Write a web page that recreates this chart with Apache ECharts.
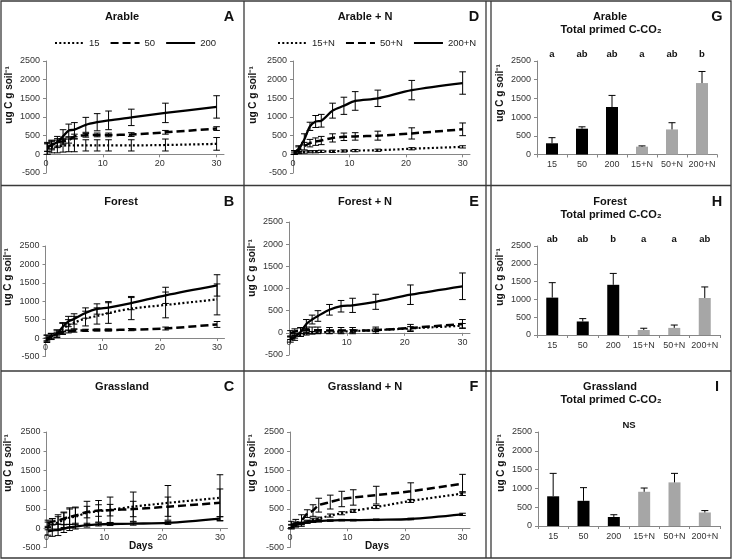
<!DOCTYPE html>
<html>
<head>
<meta charset="utf-8">
<script src="https://cdn.jsdelivr.net/npm/echarts@6/dist/echarts.min.js"></script>
<style>html,body{margin:0;padding:0;background:#fff}#c{width:733px;height:560px}</style>
</head>
<body>
<div id="c"></div>
<script>
// ---------- data ----------
const days = [0.25, 1, 2, 3, 4, 5, 7, 9, 11, 15, 21, 30];
const xTicks = [0, 10, 20, 30];

// Arable (A)
const arable15 = [150, 200, 210, 230, 240, 240, 240, 240, 240, 240, 250, 280];
const arable15Err = [150, 160, 170, 170, 170, 170, 150, 150, 150, 150, 160, 170];
const arable50 = [180, 250, 320, 350, 380, 480, 510, 520, 520, 530, 590, 690];
const arable50Err = [100, 100, 100, 80, 80, 60, 50, 50, 50, 50, 50, 50];
const arable200 = [200, 250, 330, 480, 640, 660, 790, 860, 910, 990, 1110, 1270];
const arable200Err = [120, 130, 150, 180, 170, 190, 200, 230, 250, 220, 260, 300];
// Arable + N (D)
const arableN15 = [30, 50, 60, 70, 70, 80, 80, 90, 100, 110, 150, 200];
const arableN15Err = [30, 30, 30, 30, 30, 30, 30, 30, 30, 30, 30, 30];
const arableN50 = [50, 120, 220, 300, 340, 370, 440, 470, 480, 500, 560, 670];
const arableN50Err = [50, 80, 100, 100, 100, 110, 110, 100, 100, 120, 150, 170];
const arableN200 = [50, 150, 400, 750, 880, 900, 1170, 1300, 1430, 1500, 1720, 1910];
const arableN200Err = [50, 80, 150, 110, 160, 170, 200, 230, 250, 220, 260, 300];
// Forest (B)
const forest15 = [0, 40, 120, 250, 350, 420, 530, 600, 680, 800, 900, 1050];
const forest15Err = [80, 80, 100, 150, 150, 170, 200, 220, 280, 300, 350, 420];
const forest50 = [-60, 60, 110, 150, 180, 200, 210, 220, 220, 230, 260, 370];
const forest50Err = [60, 60, 50, 40, 40, 40, 30, 30, 30, 30, 40, 80];
const forest200 = [0, 50, 120, 300, 450, 520, 680, 790, 830, 950, 1160, 1430];
const forest200Err = [80, 80, 100, 120, 140, 140, 140, 140, 160, 180, 220, 290];
// Forest + N (E)
const forestN15 = [-120, -90, -50, -20, 0, 10, 20, 30, 40, 60, 100, 160];
const forestN15Err = [30, 30, 30, 30, 30, 30, 30, 30, 30, 30, 40, 50];
const forestN50 = [-10, 30, 50, 60, 60, 60, 50, 50, 50, 60, 110, 200];
const forestN50Err = [60, 60, 60, 70, 70, 70, 70, 70, 70, 70, 80, 100];
const forestN200 = [-150, -90, 20, 200, 300, 380, 520, 600, 620, 700, 860, 1050];
const forestN200Err = [60, 80, 100, 100, 100, 120, 120, 130, 160, 170, 220, 300];
// Grassland (C)
const grass15 = [60, 100, 150, 220, 280, 300, 400, 440, 480, 560, 660, 790];
const grass15Err = [100, 150, 200, 200, 250, 250, 300, 280, 330, 380, 450, 600];
const grass50 = [130, 170, 200, 250, 300, 330, 420, 460, 470, 500, 560, 660];
const grass50Err = [80, 80, 100, 150, 200, 200, 150, 150, 150, 200, 250, 360];
const grass200 = [-80, -60, -40, -10, 20, 40, 80, 100, 110, 120, 140, 250];
const grass200Err = [100, 150, 150, 100, 80, 60, 50, 40, 40, 40, 40, 50];
// Grassland + N (F)
const grassN15 = [50, 80, 120, 170, 220, 250, 330, 390, 450, 550, 710, 900];
const grassN15Err = [30, 30, 30, 40, 40, 40, 40, 40, 40, 40, 40, 50];
const grassN50 = [80, 130, 200, 380, 460, 600, 680, 760, 800, 860, 960, 1160];
const grassN50Err = [100, 100, 150, 100, 150, 180, 180, 200, 200, 230, 220, 240];
const grassN200 = [50, 100, 130, 160, 180, 190, 200, 210, 210, 220, 240, 360];
const grassN200Err = [50, 40, 30, 30, 30, 30, 20, 20, 20, 20, 20, 30];

// Totals (G, H, I)
const treatments = ['15', '50', '200', '15+N', '50+N', '200+N'];
const arableTotal = [300, 690, 1270, 210, 670, 1910];
const arableTotalErr = [150, 50, 310, 20, 180, 310];
const arableLetters = ['a', 'ab', 'ab', 'a', 'ab', 'b'];
const forestTotal = [1050, 380, 1410, 140, 200, 1040];
const forestTotalErr = [420, 80, 320, 50, 80, 310];
const forestLetters = ['ab', 'ab', 'b', 'a', 'a', 'ab'];
const grassTotal = [790, 670, 240, 910, 1160, 360];
const grassTotalErr = [610, 350, 60, 100, 240, 50];
const grassNote = 'NS';

const lineNames = ['15', '50', '200'];
const lineNamesN = ['15+N', '50+N', '200+N'];
const yName = 'ug C g soil\u207B\u00B9';

// ---------- layout ----------
const FONT = '"Liberation Sans", Arial, sans-serif';
const AX = '#868686';
const TXT = '#333';
const Y_MIN = -500, Y_MAX = 2500;

const linePanels = [
  {grid: {left: 46, top: 61, width: 178, height: 112}, names: lineNames, vals: [arable15, arable50, arable200], errs: [arable15Err, arable50Err, arable200Err]},
  {grid: {left: 293, top: 61, width: 177, height: 112}, names: lineNamesN, vals: [arableN15, arableN50, arableN200], errs: [arableN15Err, arableN50Err, arableN200Err]},
  {grid: {left: 45.5, top: 246, width: 179, height: 110.5}, names: lineNames, vals: [forest15, forest50, forest200], errs: [forest15Err, forest50Err, forest200Err]},
  {grid: {left: 289, top: 222, width: 181, height: 133}, names: lineNamesN, vals: [forestN15, forestN50, forestN200], errs: [forestN15Err, forestN50Err, forestN200Err]},
  {grid: {left: 46.5, top: 432, width: 181, height: 115.5}, names: lineNames, vals: [grass15, grass50, grass200], errs: [grass15Err, grass50Err, grass200Err]},
  {grid: {left: 290, top: 432, width: 180, height: 115.5}, names: lineNamesN, vals: [grassN15, grassN50, grassN200], errs: [grassN15Err, grassN50Err, grassN200Err]}
];
const barPanels = [
  {grid: {left: 537, top: 61, width: 180, height: 93.5}, vals: arableTotal, errs: arableTotalErr, letters: arableLetters},
  {grid: {left: 537, top: 246, width: 183, height: 89}, vals: forestTotal, errs: forestTotalErr, letters: forestLetters},
  {grid: {left: 538, top: 432, width: 182, height: 94}, vals: grassTotal, errs: grassTotalErr, note: grassNote}
];

const lineStyles = [
  {color: '#000', width: 2.2, type: [2, 2.3]},
  {color: '#000', width: 2.5, type: [8, 4]},
  {color: '#000', width: 2.3, type: 'solid'}
];

function errRender(params, api) {
  const x = api.value(0);
  const p1 = api.coord([x, api.value(1)]);
  const p2 = api.coord([x, api.value(2)]);
  const w = 3.3;
  const st = {stroke: '#000', lineWidth: 1};
  return {type: 'group', children: [
    {type: 'line', shape: {x1: p1[0], y1: p1[1], x2: p2[0], y2: p2[1]}, style: st},
    {type: 'line', shape: {x1: p1[0] - w, y1: p1[1], x2: p1[0] + w, y2: p1[1]}, style: st},
    {type: 'line', shape: {x1: p2[0] - w, y1: p2[1], x2: p2[0] + w, y2: p2[1]}, style: st}
  ]};
}
function barErrRender(params, api) {
  const x = api.value(0);
  const p1 = api.coord([x, api.value(1)]);
  const p2 = api.coord([x, api.value(2)]);
  const w = 3.5;
  const st = {stroke: '#000', lineWidth: 1};
  return {type: 'group', children: [
    {type: 'line', shape: {x1: p1[0], y1: p1[1], x2: p2[0], y2: p2[1]}, style: st},
    {type: 'line', shape: {x1: p2[0] - w, y1: p2[1], x2: p2[0] + w, y2: p2[1]}, style: st}
  ]};
}
function letterRender(params, api) {
  const p = api.coord([api.value(0), api.value(1)]);
  return {type: 'text', x: p[0], y: p[1] - 7, style: {text: api.value(2), font: 'bold 9.5px ' + FONT, fill: '#111', align: 'center', verticalAlign: 'middle'}};
}
const plainNum = v => String(v);

const grids = [], xAxes = [], yAxes = [], series = [];
linePanels.forEach((p, gi) => {
  grids.push(Object.assign({}, p.grid));
  // place the whole x axis (line, ticks, labels) at y = 0
  const zeroOffset = -p.grid.height * (0 - Y_MIN) / (Y_MAX - Y_MIN);
  xAxes.push({
    type: 'value', gridIndex: gi, min: 0, max: 31.3, position: 'bottom', offset: zeroOffset,
    axisLine: {show: true, onZero: false, lineStyle: {color: AX, width: 1}},
    axisTick: {show: true, length: 3, lineStyle: {color: AX}, customValues: xTicks},
    axisLabel: {fontSize: 9, color: TXT, fontFamily: FONT, margin: 5, customValues: xTicks, formatter: plainNum},
    splitLine: {show: false}
  });
  yAxes.push({
    type: 'value', gridIndex: gi, min: Y_MIN, max: Y_MAX, interval: 500,
    axisLine: {show: true, onZero: false, lineStyle: {color: AX, width: 1}},
    axisTick: {show: true, length: 3, lineStyle: {color: AX}},
    axisLabel: {fontSize: 9, color: TXT, fontFamily: FONT, margin: 6, formatter: plainNum},
    splitLine: {show: false}
  });
  p.vals.forEach((v, k) => {
    series.push({
      type: 'custom', name: 'err' + gi + '_' + k, xAxisIndex: gi, yAxisIndex: gi,
      data: days.map((d, i) => [d, v[i] - p.errs[k][i], v[i] + p.errs[k][i]]),
      encode: {x: 0, y: [1, 2]}, renderItem: errRender, z: 2, silent: true
    });
  });
  p.vals.forEach((v, k) => {
    series.push({
      type: 'line', name: p.names[k], xAxisIndex: gi, yAxisIndex: gi,
      data: days.map((d, i) => [d, v[i]]),
      symbol: 'none', smooth: 0.3, lineStyle: lineStyles[k], itemStyle: {color: '#000'}, z: 3
    });
  });
});
barPanels.forEach((p, bi) => {
  const gi = linePanels.length + bi;
  grids.push(Object.assign({}, p.grid));
  xAxes.push({
    type: 'category', gridIndex: gi, data: treatments,
    axisLine: {show: true, lineStyle: {color: AX, width: 1}},
    axisTick: {show: true, length: 3, lineStyle: {color: AX}},
    axisLabel: {fontSize: 9, color: TXT, fontFamily: FONT, margin: 6, interval: 0}
  });
  yAxes.push({
    type: 'value', gridIndex: gi, min: 0, max: 2500, interval: 500,
    axisLine: {show: true, lineStyle: {color: AX, width: 1}},
    axisTick: {show: true, length: 3, lineStyle: {color: AX}},
    axisLabel: {fontSize: 9, color: TXT, fontFamily: FONT, margin: 6, formatter: plainNum},
    splitLine: {show: false}
  });
  series.push({
    type: 'bar', name: 'total' + bi, xAxisIndex: gi, yAxisIndex: gi, barWidth: 12,
    data: p.vals.map((v, i) => ({value: v, itemStyle: {color: i < 3 ? '#000' : '#a6a6a6'}})),
    z: 2
  });
  series.push({
    type: 'custom', name: 'totalErr' + bi, xAxisIndex: gi, yAxisIndex: gi,
    data: p.vals.map((v, i) => [i, v, v + p.errs[i]]),
    encode: {x: 0, y: [1, 2]}, renderItem: barErrRender, z: 3, silent: true
  });
  if (p.letters) {
    series.push({
      type: 'custom', name: 'letters' + bi, xAxisIndex: gi, yAxisIndex: gi, clip: false,
      data: p.letters.map((t, i) => [i, 2500, t]),
      encode: {x: 0, y: 1}, renderItem: letterRender, silent: true
    });
  } else if (p.note) {
    series.push({
      type: 'custom', name: 'note' + bi, xAxisIndex: gi, yAxisIndex: gi, clip: false,
      data: [[2.5, 2500, p.note]],
      encode: {x: 0, y: 1}, renderItem: function (params, api) {
        const pt = api.coord([2, 2500]);
        const pt2 = api.coord([3, 2500]);
        return {type: 'text', x: (pt[0] + pt2[0]) / 2, y: pt[1] - 7, style: {text: api.value(2), font: 'bold 9.5px ' + FONT, fill: '#111', align: 'center', verticalAlign: 'middle'}};
      }, silent: true
    });
  }
});

// ---------- graphic: borders, titles, axis names ----------
const G = [];
function txt(x, y, text, size, rot) {
  const el = {type: 'text', x: x, y: y, style: {text: text, font: 'bold ' + size + 'px ' + FONT, fill: '#111', align: 'center', verticalAlign: 'middle'}, silent: true};
  if (rot) el.rotation = Math.PI / 2;
  G.push(el);
}
function ln(x1, y1, x2, y2) {
  G.push({type: 'line', shape: {x1: x1, y1: y1, x2: x2, y2: y2}, style: {stroke: '#3a3a3a', lineWidth: 1.3}, silent: true});
}
G.push({type: 'rect', shape: {x: 1, y: 1, width: 730, height: 557}, style: {fill: 'none', stroke: '#3a3a3a', lineWidth: 1.3}, silent: true});
ln(244, 1, 244, 558); ln(486, 1, 486, 558); ln(491, 1, 491, 558);
ln(1, 185.5, 731, 185.5); ln(1, 371, 731, 371);

const titleRows = [16.7, 201.7, 386.7];
txt(122, titleRows[0], 'Arable', 11); txt(365, titleRows[0], 'Arable + N', 11);
txt(610, titleRows[0], 'Arable', 11); txt(611, titleRows[0] + 13.5, 'Total primed C-CO\u2082', 11);
txt(121, titleRows[1], 'Forest', 11); txt(365, titleRows[1], 'Forest + N', 11);
txt(610, titleRows[1], 'Forest', 11); txt(611, titleRows[1] + 13.5, 'Total primed C-CO\u2082', 11);
txt(122, titleRows[2], 'Grassland', 11); txt(365, titleRows[2], 'Grassland + N', 11);
txt(610, titleRows[2], 'Grassland', 11); txt(611, titleRows[2] + 13.5, 'Total primed C-CO\u2082', 11);
const letterX = [229, 474, 717];
['A', 'D', 'G'].forEach((t, i) => txt(letterX[i], titleRows[0], t, 14.5));
['B', 'E', 'H'].forEach((t, i) => txt(letterX[i], titleRows[1], t, 14.5));
['C', 'F', 'I'].forEach((t, i) => txt(letterX[i], titleRows[2], t, 14.5));

const yNamePos = [[9, 95], [253, 95], [500, 93], [8.5, 277], [252, 268], [500, 277], [8, 463], [252, 463], [501, 463]];
yNamePos.forEach(p => txt(p[0], p[1], yName, 10, true));
txt(141, 546, 'Days', 10);
txt(377, 546, 'Days', 10);

const legendCommon = {
  itemWidth: 29, itemHeight: 10, itemGap: 10, selectedMode: false,
  textStyle: {fontSize: 9.5, color: '#222', fontFamily: FONT},
  itemStyle: {color: 'rgba(0,0,0,0)', borderColor: 'rgba(0,0,0,0)', borderWidth: 0, opacity: 0}
};
const option = {
  animation: false,
  backgroundColor: '#fff',
  textStyle: {fontFamily: FONT},
  grid: grids,
  xAxis: xAxes,
  yAxis: yAxes,
  legend: [
    Object.assign({left: 49, top: 33, data: lineNames}, legendCommon),
    Object.assign({left: 272, top: 33, data: lineNamesN}, legendCommon)
  ],
  series: series,
  graphic: G
};
const chart = echarts.init(document.getElementById('c'), null, {renderer: 'canvas'});
chart.setOption(option);
</script>
</body>
</html>
